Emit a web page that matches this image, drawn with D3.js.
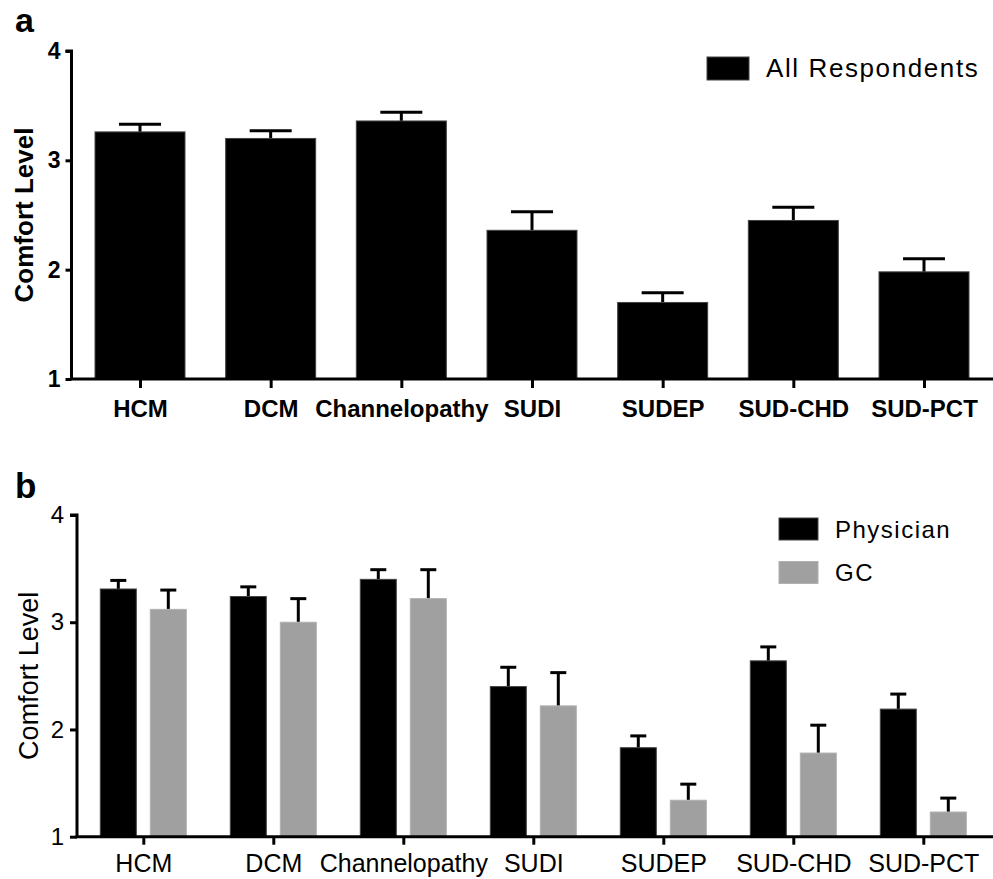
<!DOCTYPE html>
<html>
<head>
<meta charset="utf-8">
<script src="https://cdn.jsdelivr.net/npm/d3@7"></script>
<style>
  html, body { margin: 0; padding: 0; background: #fff; }
  svg { display: block; }
  text { font-family: "Liberation Sans", Arial, sans-serif; fill: #000; }
</style>
</head>
<body>
<svg id="chart" width="993" height="879"></svg>
<script>
// ---- Data ----
const categories = ["HCM", "DCM", "Channelopathy", "SUDI", "SUDEP", "SUD-CHD", "SUD-PCT"];
const yTicks = [1, 2, 3, 4];

// Panel a: all respondents (mean, upper error)
const allMean  = [3.26, 3.20, 3.36, 2.36, 1.70, 2.45, 1.98];
const allUpper = [3.33, 3.27, 3.44, 2.53, 1.79, 2.57, 2.10];

// Panel b: physicians vs genetic counselors
const physMean  = [3.31, 3.24, 3.40, 2.40, 1.83, 2.64, 2.19];
const physUpper = [3.39, 3.33, 3.49, 2.58, 1.94, 2.77, 2.33];
const gcMean    = [3.12, 3.00, 3.22, 2.22, 1.34, 1.78, 1.23];
const gcUpper   = [3.30, 3.22, 3.49, 2.53, 1.49, 2.04, 1.36];

const groups = ["Physician", "GC"];
const colors = { "All Respondents": "#000000", "Physician": "#000000", "GC": "#a0a0a0" };

const svg = d3.select("#chart");

// ================= Panel a =================
(function () {
  const g = svg.append("g");
  const x = d3.scalePoint().domain(categories).range([140, 924]);
  const y = d3.scaleLinear().domain([1, 4]).range([379, 51]);
  const axisX = 71.5, right = 993;
  const barW = 90, capW = 42;

  const data = categories.map((c, i) => ({ c, v: allMean[i], e: allUpper[i] }));

  g.selectAll(".err").data(data).join("line")
    .attr("x1", d => x(d.c)).attr("x2", d => x(d.c))
    .attr("y1", d => y(d.v)).attr("y2", d => y(d.e))
    .attr("stroke", "#000").attr("stroke-width", 3);
  g.selectAll(".cap").data(data).join("line")
    .attr("x1", d => x(d.c) - capW / 2).attr("x2", d => x(d.c) + capW / 2)
    .attr("y1", d => y(d.e)).attr("y2", d => y(d.e))
    .attr("stroke", "#000").attr("stroke-width", 3);

  g.selectAll(".bar").data(data).join("rect")
    .attr("x", d => x(d.c) - barW / 2).attr("width", barW)
    .attr("y", d => y(d.v)).attr("height", d => y(1) - y(d.v))
    .attr("fill", colors["All Respondents"]).attr("stroke", "#444").attr("stroke-width", 1);

  const ya = g.append("g").attr("transform", `translate(${axisX},0)`)
    .call(d3.axisLeft(y).tickValues(yTicks).tickFormat(d3.format("d")).tickSize(6).tickPadding(5));
  ya.select(".domain").attr("stroke-width", 3).attr("d", `M-6,${y(4)}H0V${y(1)}`);
  ya.selectAll(".tick line").attr("stroke-width", 3);
  ya.selectAll(".tick text").attr("font-size", 23).attr("font-weight", "bold").attr("font-family", "Liberation Sans, Arial, sans-serif");

  const xa = g.append("g").attr("transform", `translate(0,${y(1)})`)
    .call(d3.axisBottom(x).tickSize(9).tickPadding(12));
  xa.select(".domain").attr("stroke-width", 3).attr("d", `M${axisX - 1.5},0H${right}`);
  xa.selectAll(".tick line").attr("stroke-width", 3);
  xa.selectAll(".tick text").attr("font-size", 24).attr("font-weight", "bold")
    .attr("font-family", "Liberation Sans, Arial, sans-serif").attr("dy", "0.71em");

  g.append("text").attr("transform", `translate(33,${(y(4) + y(1)) / 2}) rotate(-90)`)
    .attr("text-anchor", "middle").attr("font-size", 26).attr("font-weight", "bold")
    .text("Comfort Level");

  g.append("text").attr("x", 15).attr("y", 32).attr("font-size", 34).attr("font-weight", "bold").text("a");

  const lg = g.append("g").attr("transform", "translate(707,57)");
  lg.append("rect").attr("width", 42).attr("height", 23).attr("fill", colors["All Respondents"]).attr("stroke", "#444");
  lg.append("text").attr("x", 59).attr("y", 20).attr("font-size", 26).attr("letter-spacing", 1.6).text("All Respondents");
})();

// ================= Panel b =================
(function () {
  const g = svg.append("g");
  const x = d3.scalePoint().domain(categories).range([143.3, 923.3]);
  const xs = d3.scaleBand().domain(groups).range([-43, 43]).paddingInner(0.28);
  const y = d3.scaleLinear().domain([1, 4]).range([836.7, 515]);
  const axisX = 77, right = 993;
  const capW = 16;

  const data = [];
  categories.forEach((c, i) => {
    data.push({ c, s: "Physician", v: physMean[i], e: physUpper[i] });
    data.push({ c, s: "GC", v: gcMean[i], e: gcUpper[i] });
  });
  const cx = d => x(d.c) + xs(d.s) + xs.bandwidth() / 2;

  g.selectAll(".err").data(data).join("line")
    .attr("x1", cx).attr("x2", cx)
    .attr("y1", d => y(d.v)).attr("y2", d => y(d.e))
    .attr("stroke", "#000").attr("stroke-width", 3);
  g.selectAll(".cap").data(data).join("line")
    .attr("x1", d => cx(d) - capW / 2).attr("x2", d => cx(d) + capW / 2)
    .attr("y1", d => y(d.e)).attr("y2", d => y(d.e))
    .attr("stroke", "#000").attr("stroke-width", 3);

  g.selectAll(".bar").data(data).join("rect")
    .attr("x", d => x(d.c) + xs(d.s)).attr("width", xs.bandwidth())
    .attr("y", d => y(d.v)).attr("height", d => y(1) - y(d.v))
    .attr("fill", d => colors[d.s])
    .attr("stroke", d => d.s === "GC" ? "#b0b0b0" : "#444").attr("stroke-width", 1);

  const ya = g.append("g").attr("transform", `translate(${axisX},0)`)
    .call(d3.axisLeft(y).tickValues(yTicks).tickFormat(d3.format("d")).tickSize(7).tickPadding(6));
  ya.select(".domain").attr("stroke-width", 3).attr("d", `M-7,${y(4)}H0V${y(1)}`);
  ya.selectAll(".tick line").attr("stroke-width", 3);
  ya.selectAll(".tick text").attr("font-size", 24).attr("font-family", "Liberation Sans, Arial, sans-serif");

  const xa = g.append("g").attr("transform", `translate(0,${y(1)})`)
    .call(d3.axisBottom(x).tickSize(8).tickPadding(10));
  xa.select(".domain").attr("stroke-width", 3).attr("d", `M${axisX - 1.5},0H${right}`);
  xa.selectAll(".tick line").attr("stroke-width", 3);
  xa.selectAll(".tick text").attr("font-size", 25)
    .attr("font-family", "Liberation Sans, Arial, sans-serif").attr("dy", "0.71em");

  g.append("text").attr("transform", `translate(38,${(y(4) + y(1)) / 2}) rotate(-90)`)
    .attr("text-anchor", "middle").attr("font-size", 27)
    .text("Comfort Level");

  g.append("text").attr("x", 15).attr("y", 498).attr("font-size", 35).attr("font-weight", "bold").text("b");

  const lg = g.append("g").attr("transform", "translate(779,518)");
  groups.forEach((s, i) => {
    const row = lg.append("g").attr("transform", `translate(0,${i * 43.5})`);
    row.append("rect").attr("width", 39).attr("height", 22).attr("fill", colors[s])
      .attr("stroke", s === "GC" ? "#b0b0b0" : "#444");
    row.append("text").attr("x", 56).attr("y", 19.5).attr("font-size", 24).attr("letter-spacing", 1.5).text(s);
  });
})();
</script>
</body>
</html>
